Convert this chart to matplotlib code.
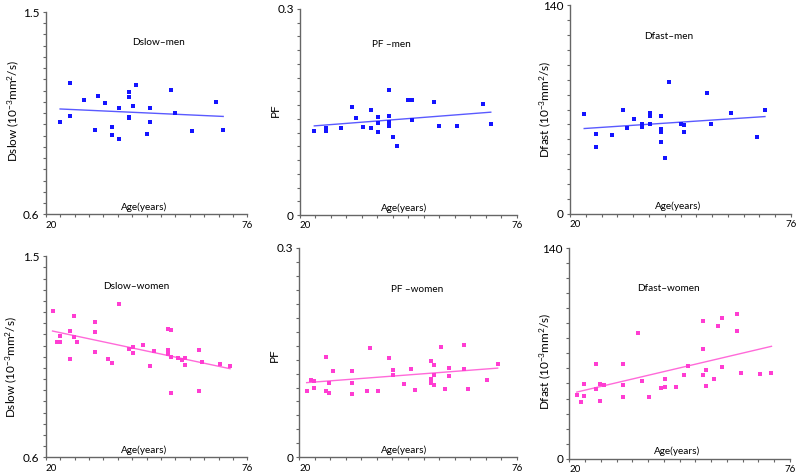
import numpy as np
import matplotlib
matplotlib.use("Agg")
import matplotlib.pyplot as plt

plt.rcParams['font.family'] = ['Lato', 'DejaVu Sans']
plt.rcParams['mathtext.default'] = 'regular'

# ---- data (age in years) ----
men_dslow_age = [24.0, 26.8, 26.8, 30.7, 33.7, 34.5, 36.6, 38.4, 38.4, 40.4, 40.4, 43.1, 43.1,
                 43.1, 43.1, 44.2, 45.2, 48.1, 49.1, 49.1, 54.8, 55.8, 60.5, 67.4, 69.3]
men_dslow = [1.009, 1.186, 1.037, 1.110, 0.975, 1.128, 1.095, 0.987, 0.954, 1.071, 0.933, 1.144, 1.122,
             1.031, 1.027, 1.083, 1.176, 0.957, 1.074, 1.009, 1.152, 1.051, 0.970, 1.101, 0.976]

men_pf_age = [23.7, 26.6, 26.6, 30.5, 33.4, 34.4, 36.4, 38.3, 38.3, 40.2, 40.2, 40.2, 43.1,
              43.1, 43.1, 43.1, 44.1, 45.0, 48.0, 48.9, 48.9, 54.7, 55.8, 60.6, 67.4, 69.3]
men_pf = [0.1223, 0.1262, 0.1223, 0.1272, 0.1568, 0.1417, 0.1277, 0.1524, 0.1267, 0.1432, 0.1345, 0.1214, 0.1825,
          0.1442, 0.1350, 0.1291, 0.1131, 0.1000, 0.1670, 0.1680, 0.1388, 0.1641, 0.1291, 0.1296, 0.1612, 0.1325]

men_dfast_age = [23.6, 26.6, 26.6, 30.6, 33.4, 34.4, 36.3, 38.2, 38.2, 38.2, 40.2, 40.2, 40.2, 43.1,
                 43.1, 43.1, 43.1, 44.1, 45.0, 48.0, 49.0, 49.0, 54.8, 55.8, 60.7, 67.5, 69.4]
men_dfast = [67.2, 53.6, 45.1, 53.1, 69.7, 57.6, 63.6, 60.3, 59.4, 58.5, 67.4, 65.6, 60.5, 65.4,
             57.2, 55.2, 48.2, 37.5, 88.2, 60.5, 59.6, 54.7, 80.8, 60.1, 67.7, 51.6, 69.4]

women_dslow_age = [21.9, 23.1, 24.0, 24.0, 26.8, 26.8, 27.8, 27.8, 28.8, 33.6, 33.6, 33.6, 37.4, 38.4,
                   40.3, 43.2, 44.3, 44.3, 47.1, 49.1, 50.0, 53.9, 53.9, 53.9, 54.8, 54.8, 54.8, 56.8,
                   57.8, 58.7, 58.7, 62.6, 62.6, 63.5, 68.3, 71.2]
women_dslow = [1.254, 1.115, 1.145, 1.115, 1.167, 1.040, 1.234, 1.140, 1.115, 1.204, 1.160, 1.070, 1.042, 1.021,
               1.287, 1.084, 1.094, 1.069, 1.101, 1.009, 1.075, 1.176, 1.079, 1.064, 1.172, 1.049, 0.887, 1.043,
               1.037, 1.043, 1.012, 1.082, 0.896, 1.025, 1.019, 1.010]

women_pf_age = [21.9, 22.9, 23.9, 23.9, 26.8, 26.8, 27.7, 27.7, 28.7, 33.5, 33.5, 33.5, 37.4, 38.3,
                40.3, 43.1, 44.1, 44.1, 47.0, 48.9, 49.9, 53.8, 53.8, 53.8, 54.7, 54.7, 54.7, 56.6,
                57.6, 58.6, 58.6, 62.4, 62.4, 63.5, 68.3, 71.1]
women_pf = [0.0951, 0.1113, 0.1089, 0.0998, 0.1438, 0.0951, 0.1070, 0.0917, 0.1232, 0.1242, 0.1065, 0.0903, 0.0955, 0.1562,
            0.0955, 0.1419, 0.1252, 0.1185, 0.1051, 0.1261, 0.0970, 0.1376, 0.1123, 0.1070, 0.1323, 0.1185, 0.1041, 0.1586,
            0.0979, 0.1275, 0.1166, 0.1610, 0.1261, 0.0979, 0.1104, 0.1338]

women_dfast_age = [21.9, 22.9, 23.8, 23.8, 26.8, 26.8, 27.7, 27.7, 28.7, 33.5, 33.5, 33.5, 37.4, 38.4,
                   40.3, 43.2, 44.2, 44.2, 47.1, 49.0, 50.0, 53.8, 53.8, 53.8, 54.8, 54.8, 56.7, 57.7,
                   58.7, 58.7, 62.6, 62.6, 63.6, 68.4, 71.3]
women_dfast = [42.5, 37.4, 49.6, 41.9, 63.1, 46.5, 49.8, 38.5, 49.2, 63.1, 49.0, 41.0, 83.7, 51.8,
               40.8, 47.0, 52.9, 47.6, 47.6, 55.4, 61.8, 91.3, 72.9, 55.8, 59.1, 48.5, 53.2, 88.4,
               93.5, 60.7, 96.4, 84.8, 57.2, 56.5, 56.7]

W, H = 800, 476
BLUE, BLUE_LINE = '#1414ff', '#5a5aff'
PINK, PINK_LINE = '#ff3dd2', '#ff6ad9'

# (x, y, title, ylabel, ylim, ystep, color, line colour, pixel box l r t b, title pos, ylabel pos)
panels = [
    (men_dslow_age, men_dslow, 'Dslow\u2013men', 'Dslow (10$^{-3}$mm$^{2}$/s)', (0.6, 1.5), 0.05,
     BLUE, BLUE_LINE, (45.7, 247.3, 12, 214.3), (0.56, 0.85), (-0.125, 0.51)),
    (men_pf_age, men_pf, 'PF \u2013men', 'PF', (0, 0.3), 0.02,
     BLUE, BLUE_LINE, (300, 516.7, 9, 215), (0.42, 0.83), (-0.09, 0.51)),
    (men_dfast_age, men_dfast, 'Dfast\u2013men', 'Dfast (10$^{-3}$mm$^{2}$/s)', (0, 140), 10,
     BLUE, BLUE_LINE, (570, 791, 5, 214), (0.445, 0.85), (-0.075, 0.5)),
    (women_dslow_age, women_dslow, 'Dslow\u2013women', 'Dslow (10$^{-3}$mm$^{2}$/s)', (0.6, 1.5), 0.05,
     PINK, PINK_LINE, (45.7, 247.3, 256.3, 457.3), (0.45, 0.85), (-0.13, 0.45)),
    (women_pf_age, women_pf, 'PF \u2013women', 'PF', (0, 0.3), 0.02,
     PINK, PINK_LINE, (299.3, 516.7, 248, 457.3), (0.54, 0.80), (-0.09, 0.49)),
    (women_dfast_age, women_dfast, 'Dfast\u2013women', 'Dfast (10$^{-3}$mm$^{2}$/s)', (0, 140), 10,
     PINK, PINK_LINE, (569.3, 790, 248, 458.7), (0.45, 0.81), (-0.075, 0.46)),
]

fig = plt.figure(figsize=(8, 4.76), dpi=100)

for x, y, title, ylabel, ylim, ystep, col, lcol, box, tpos, lpos in panels:
    l, r, t, b = box
    ax = fig.add_axes([l / W, 1 - b / H, (r - l) / W, (b - t) / H])
    x = np.array(x)
    y = np.array(y)
    ax.scatter(x, y, s=6, marker='s', color=col, linewidths=0, zorder=3)
    # linear trend line
    k, c = np.polyfit(x, y, 1)
    xx = np.array([x.min(), x.max()])
    ax.plot(xx, k * xx + c, color=lcol, lw=1.0, zorder=2)

    ax.set_xlim(20, 76)
    ax.set_ylim(*ylim)
    ax.set_xticks([20, 76])
    ax.set_xticks(np.arange(20, 77, 4), minor=True)
    ax.set_yticks(list(ylim))
    ax.set_yticks(np.arange(ylim[0], ylim[1] + ystep / 2, ystep), minor=True)
    ax.set_yticklabels([('%g' % v) for v in ylim], fontsize=8.5)
    labs = ax.set_xticklabels(['20', '76'], fontsize=7)
    labs[0].set_ha('left')
    ax.tick_params(which='both', direction='out', length=2.5, width=0.8, color='#666666', pad=2)

    for s in ['top', 'right']:
        ax.spines[s].set_visible(False)
    for s in ['left', 'bottom']:
        ax.spines[s].set_color('#666666')
        ax.spines[s].set_linewidth(1.0)

    ax.text(tpos[0], tpos[1], title, transform=ax.transAxes, ha='center', va='center', fontsize=7.2)
    ax.text(0.48 if 'PF' in title else 0.49, 0.035, 'Age(years)', transform=ax.transAxes,
            ha='center', va='center', fontsize=7.2)
    ax.set_ylabel(ylabel, fontsize=8.5)
    ax.yaxis.set_label_coords(lpos[0], lpos[1])

fig.savefig('out.png', dpi=100)
